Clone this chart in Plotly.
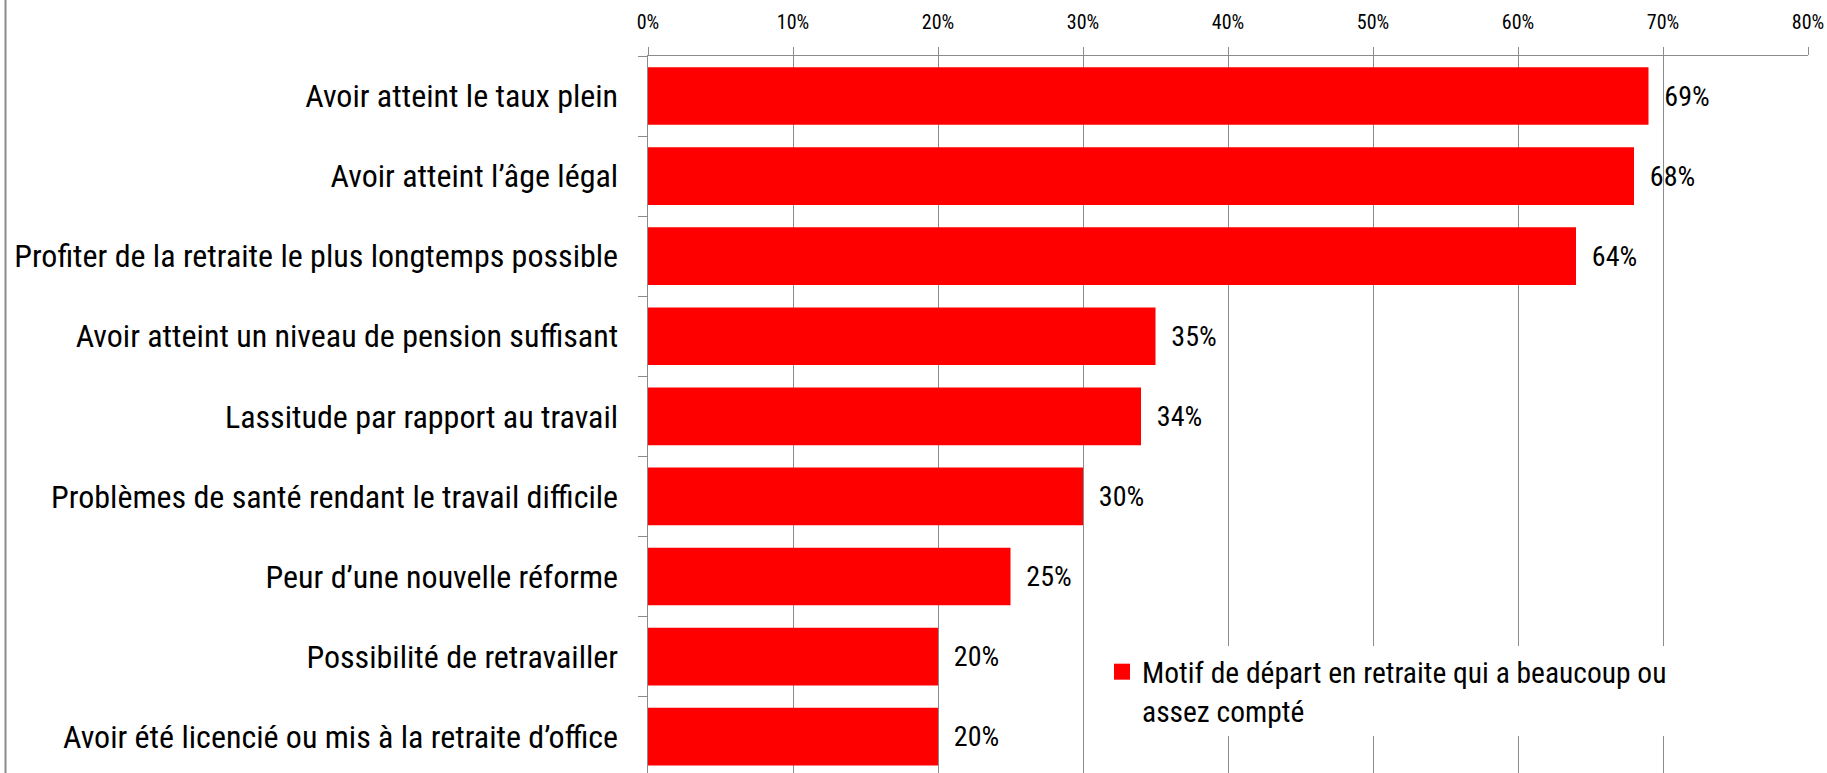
import plotly.graph_objects as go

categories = [
    "Avoir atteint le taux plein",
    "Avoir atteint l’âge légal",
    "Profiter de la retraite le plus longtemps possible",
    "Avoir atteint un niveau de pension suffisant",
    "Lassitude par rapport au travail",
    "Problèmes de santé rendant le travail difficile",
    "Peur d’une nouvelle réforme",
    "Possibilité de retravailler",
    "Avoir été licencié ou mis à la retraite d’office",
]
values = [0.69, 0.68, 0.64, 0.35, 0.34, 0.30, 0.25, 0.20, 0.20]
series_name = "Motif de départ en retraite qui a beaucoup ou<br>assez compté"
x_ticks = [0, 0.1, 0.2, 0.3, 0.4, 0.5, 0.6, 0.7, 0.8]

FONT = "Liberation Sans Narrow, Arial Narrow, Roboto Condensed, DejaVu Sans Condensed, Liberation Sans, sans-serif"
RED = "#FF0000"
GRID = "#8C8C8C"

W, H = 1827, 773
L, R, T, B = 648, 19, 56, 0
plot_w = W - L - R
plot_h = H - T - B

fig = go.Figure()
fig.add_trace(go.Bar(
    y=categories,
    x=values,
    orientation="h",
    marker=dict(color=RED, line=dict(width=0)),
    text=["\u00a0\u00a0" + f"{v:.0%}" for v in values],
    textposition="outside",
    textfont=dict(family=FONT, size=28, color="#000000"),
    constraintext="none",
    cliponaxis=False,
    showlegend=False,
    hoverinfo="skip",
))
# legend entry
fig.add_trace(go.Scatter(
    x=[None], y=[None], mode="markers",
    marker=dict(symbol="square", size=16, color=RED),
    name=series_name,
    showlegend=True,
    hoverinfo="skip",
))

fig.update_layout(
    width=W, height=H,
    margin=dict(l=L, r=R, t=T, b=B, pad=0, autoexpand=False),
    paper_bgcolor="white",
    plot_bgcolor="white",
    bargap=0.28,
    hovermode=False,
    font=dict(family=FONT, color="#000000"),
    legend=dict(
        x=(1102 - L) / plot_w, xanchor="left",
        y=(H - 646) / plot_h, yanchor="top",
        bgcolor="white",
        borderwidth=0,
        font=dict(family=FONT, size=29.5, color="#000000"),
        valign="top",
        itemwidth=30,
    ),
    xaxis=dict(
        side="top",
        range=[0, 0.8],
        tickvals=x_ticks,
        tickformat=".0%",
        tickfont=dict(family=FONT, size=20, color="#000000"),
        showgrid=True, gridcolor=GRID, gridwidth=1,
        showline=True, linecolor=GRID, linewidth=1.5,
        ticks="outside", ticklen=8, tickcolor=GRID, tickwidth=1,
        ticklabelstandoff=10,
        zeroline=False,
        automargin=False,
        fixedrange=True,
    ),
    yaxis=dict(
        type="category",
        categoryorder="array", categoryarray=categories,
        range=[-0.5 + plot_h / 80.08, -0.5],
        tickfont=dict(family=FONT, size=32, color="#000000"),
        showgrid=False,
        showline=True, linecolor=GRID, linewidth=1.5,
        ticks="outside", ticklen=9, tickcolor=GRID, tickwidth=1,
        tickson="boundaries",
        ticklabelstandoff=22,
        zeroline=False,
        automargin=False,
        fixedrange=True,
    ),
    shapes=[dict(
        type="line", xref="paper", yref="paper",
        x0=(5.5 - L) / plot_w, x1=(5.5 - L) / plot_w,
        y0=-0.05, y1=(H + 10) / plot_h,
        line=dict(color="#8C8C8C", width=2),
    )],
)

fig.write_html(
    "out.html",
    config={"displayModeBar": False, "staticPlot": True},
    post_script="document.body.style.margin='0';document.body.style.overflow='hidden';",
)
